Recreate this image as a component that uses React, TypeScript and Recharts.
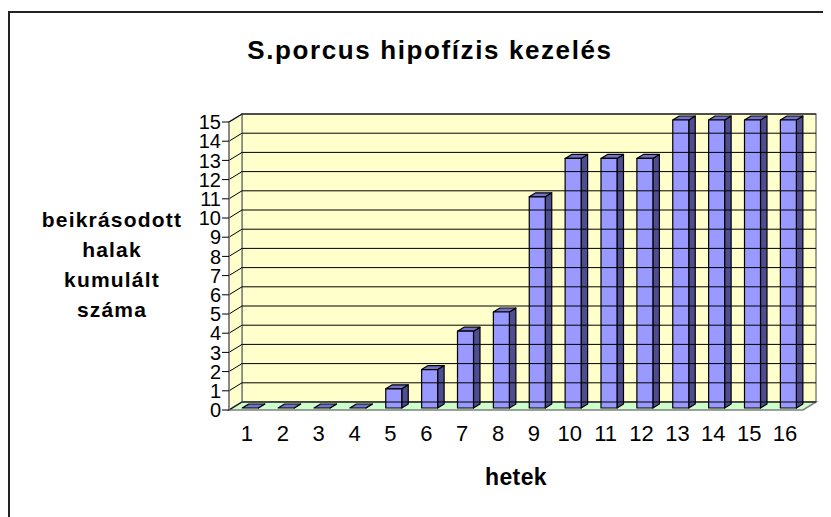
import React from "react";
import {
  BarChart,
  Bar,
  XAxis,
  YAxis,
  ReferenceArea,
  ReferenceLine,
} from "recharts";

// hetek (weeks) and cumulative number of fish
const weeks = [1, 2, 3, 4, 5, 6, 7, 8, 9, 10, 11, 12, 13, 14, 15, 16];
const fishCount = [0, 0, 0, 0, 1, 2, 4, 5, 11, 13, 13, 13, 15, 15, 15, 15];
const yTicks = [0, 1, 2, 3, 4, 5, 6, 7, 8, 9, 10, 11, 12, 13, 14, 15];
const weekEdges = [0, 1, 2, 3, 4, 5, 6, 7, 8, 9, 10, 11, 12, 13, 14, 15, 16];
const yLabelLines = ["beikrásodott", "halak", "kumulált", "száma"];

const data = weeks.map((w, i) => ({ week: w, count: fishCount[i] }));

const FONT = "'Liberation Sans', Arial, sans-serif";
// depth of the fake 3d box
const DX = 13;
const DY = 8;

const Walls = (props: any) => {
  const { x, y, width, height } = props;
  const b = y + height;
  return (
    <g>
      <rect x={x + DX} y={y - DY} width={width} height={height} fill="#FFFFCC" stroke="#808080" strokeWidth={1.5} />
      <polygon
        points={`${x},${y} ${x + DX},${y - DY} ${x + DX},${b - DY} ${x},${b}`}
        fill="#FFFFCC"
        stroke="#808080"
        strokeWidth={1.5}
      />
      <polygon
        points={`${x},${b} ${x + DX},${b - DY} ${x + width + DX},${b - DY} ${x + width},${b}`}
        fill="#CCFFCC"
        stroke="#808080"
        strokeWidth={1.5}
      />
    </g>
  );
};

const GridLine = (props: any) => {
  const { x1, y1, x2 } = props;
  return (
    <g>
      <line x1={x1} y1={y1} x2={x1 + DX} y2={y1 - DY} stroke="#000" strokeWidth={1} />
      <line x1={x1 + DX} y1={y1 - DY} x2={x2 + DX} y2={y1 - DY} stroke="#000" strokeWidth={1} />
    </g>
  );
};

const Bar3D = (props: any) => {
  const { x, y, width, height } = props;
  const fx = x + DX * 0.25;
  const fy = y - DY * 0.25;
  const bx = x + DX * 0.75;
  const by = y - DY * 0.75;
  const h = Math.max(height, 0);
  return (
    <g stroke="#000" strokeWidth={1.2} strokeLinejoin="round">
      <polygon
        points={`${fx + width},${fy} ${bx + width},${by} ${bx + width},${by + h} ${fx + width},${fy + h}`}
        fill="#4D4D8F"
      />
      <polygon points={`${fx},${fy} ${bx},${by} ${bx + width},${by} ${fx + width},${fy}`} fill="#7373CC" />
      {h > 0 && <rect x={fx} y={fy} width={width} height={h} fill="#9999FF" />}
    </g>
  );
};

export default function App() {
  return (
    <div style={{ position: "relative", width: 823, height: 509, overflow: "hidden", fontFamily: FONT }}>
      <div
        style={{
          position: "absolute",
          left: 0,
          top: 3,
          width: 840,
          height: 540,
          border: "2px solid #222",
          boxSizing: "border-box",
        }}
      />
      <div
        style={{
          position: "absolute",
          left: 0,
          width: 844,
          top: 26,
          textAlign: "center",
          fontSize: 26,
          fontWeight: "bold",
          letterSpacing: 1.6,
          lineHeight: "32px",
        }}
      >
        S.porcus hipofízis kezelés
      </div>
      <div
        style={{
          position: "absolute",
          left: 4,
          width: 200,
          top: 197,
          textAlign: "center",
          fontSize: 21,
          fontWeight: "bold",
          letterSpacing: 1.2,
          lineHeight: "30px",
        }}
      >
        {yLabelLines.map((t) => (
          <div key={t}>{t}</div>
        ))}
      </div>
      <div
        style={{
          position: "absolute",
          left: 408,
          width: 200,
          top: 455,
          textAlign: "center",
          fontSize: 23,
          fontWeight: "bold",
          letterSpacing: 0.4,
          lineHeight: "28px",
        }}
      >
        hetek
      </div>
      <div style={{ position: "absolute", left: 0, top: 0 }}>
        <BarChart width={823} height={509} data={data} margin={{ top: 114, right: 28, left: 0, bottom: 67 }}>
          <XAxis
            xAxisId="edges"
            type="number"
            dataKey="week"
            domain={[0, 16]}
            ticks={weekEdges}
            interval={0}
            allowDataOverflow
            height={0}
            tickSize={6}
            tickFormatter={() => ""}
            axisLine={{ stroke: "#808080", strokeWidth: 1.5 }}
            tickLine={{ stroke: "#000", strokeWidth: 1 }}
          />
          <XAxis
            xAxisId="cat"
            dataKey="week"
            height={40}
            interval={0}
            tickLine={false}
            axisLine={false}
            tickSize={6}
            tickMargin={9}
            tick={{ fill: "#000", fontSize: 22, fontFamily: FONT }}
          />
          <YAxis
            width={221}
            domain={[0, 15]}
            ticks={yTicks}
            interval={0}
            tickSize={7}
            tickMargin={1}
            axisLine={{ stroke: "#808080", strokeWidth: 1.5 }}
            tickLine={{ stroke: "#000", strokeWidth: 1 }}
            tick={{ fill: "#000", fontSize: 20, fontFamily: FONT }}
          />
          <ReferenceArea xAxisId="cat" y1={0} y2={15} shape={Walls} />
          {yTicks.map((v) => (
            <ReferenceLine key={v} xAxisId="cat" y={v} shape={GridLine} />
          ))}
          <Bar xAxisId="cat" dataKey="count" barSize={16} shape={Bar3D} isAnimationActive={false} />
        </BarChart>
      </div>
    </div>
  );
}
